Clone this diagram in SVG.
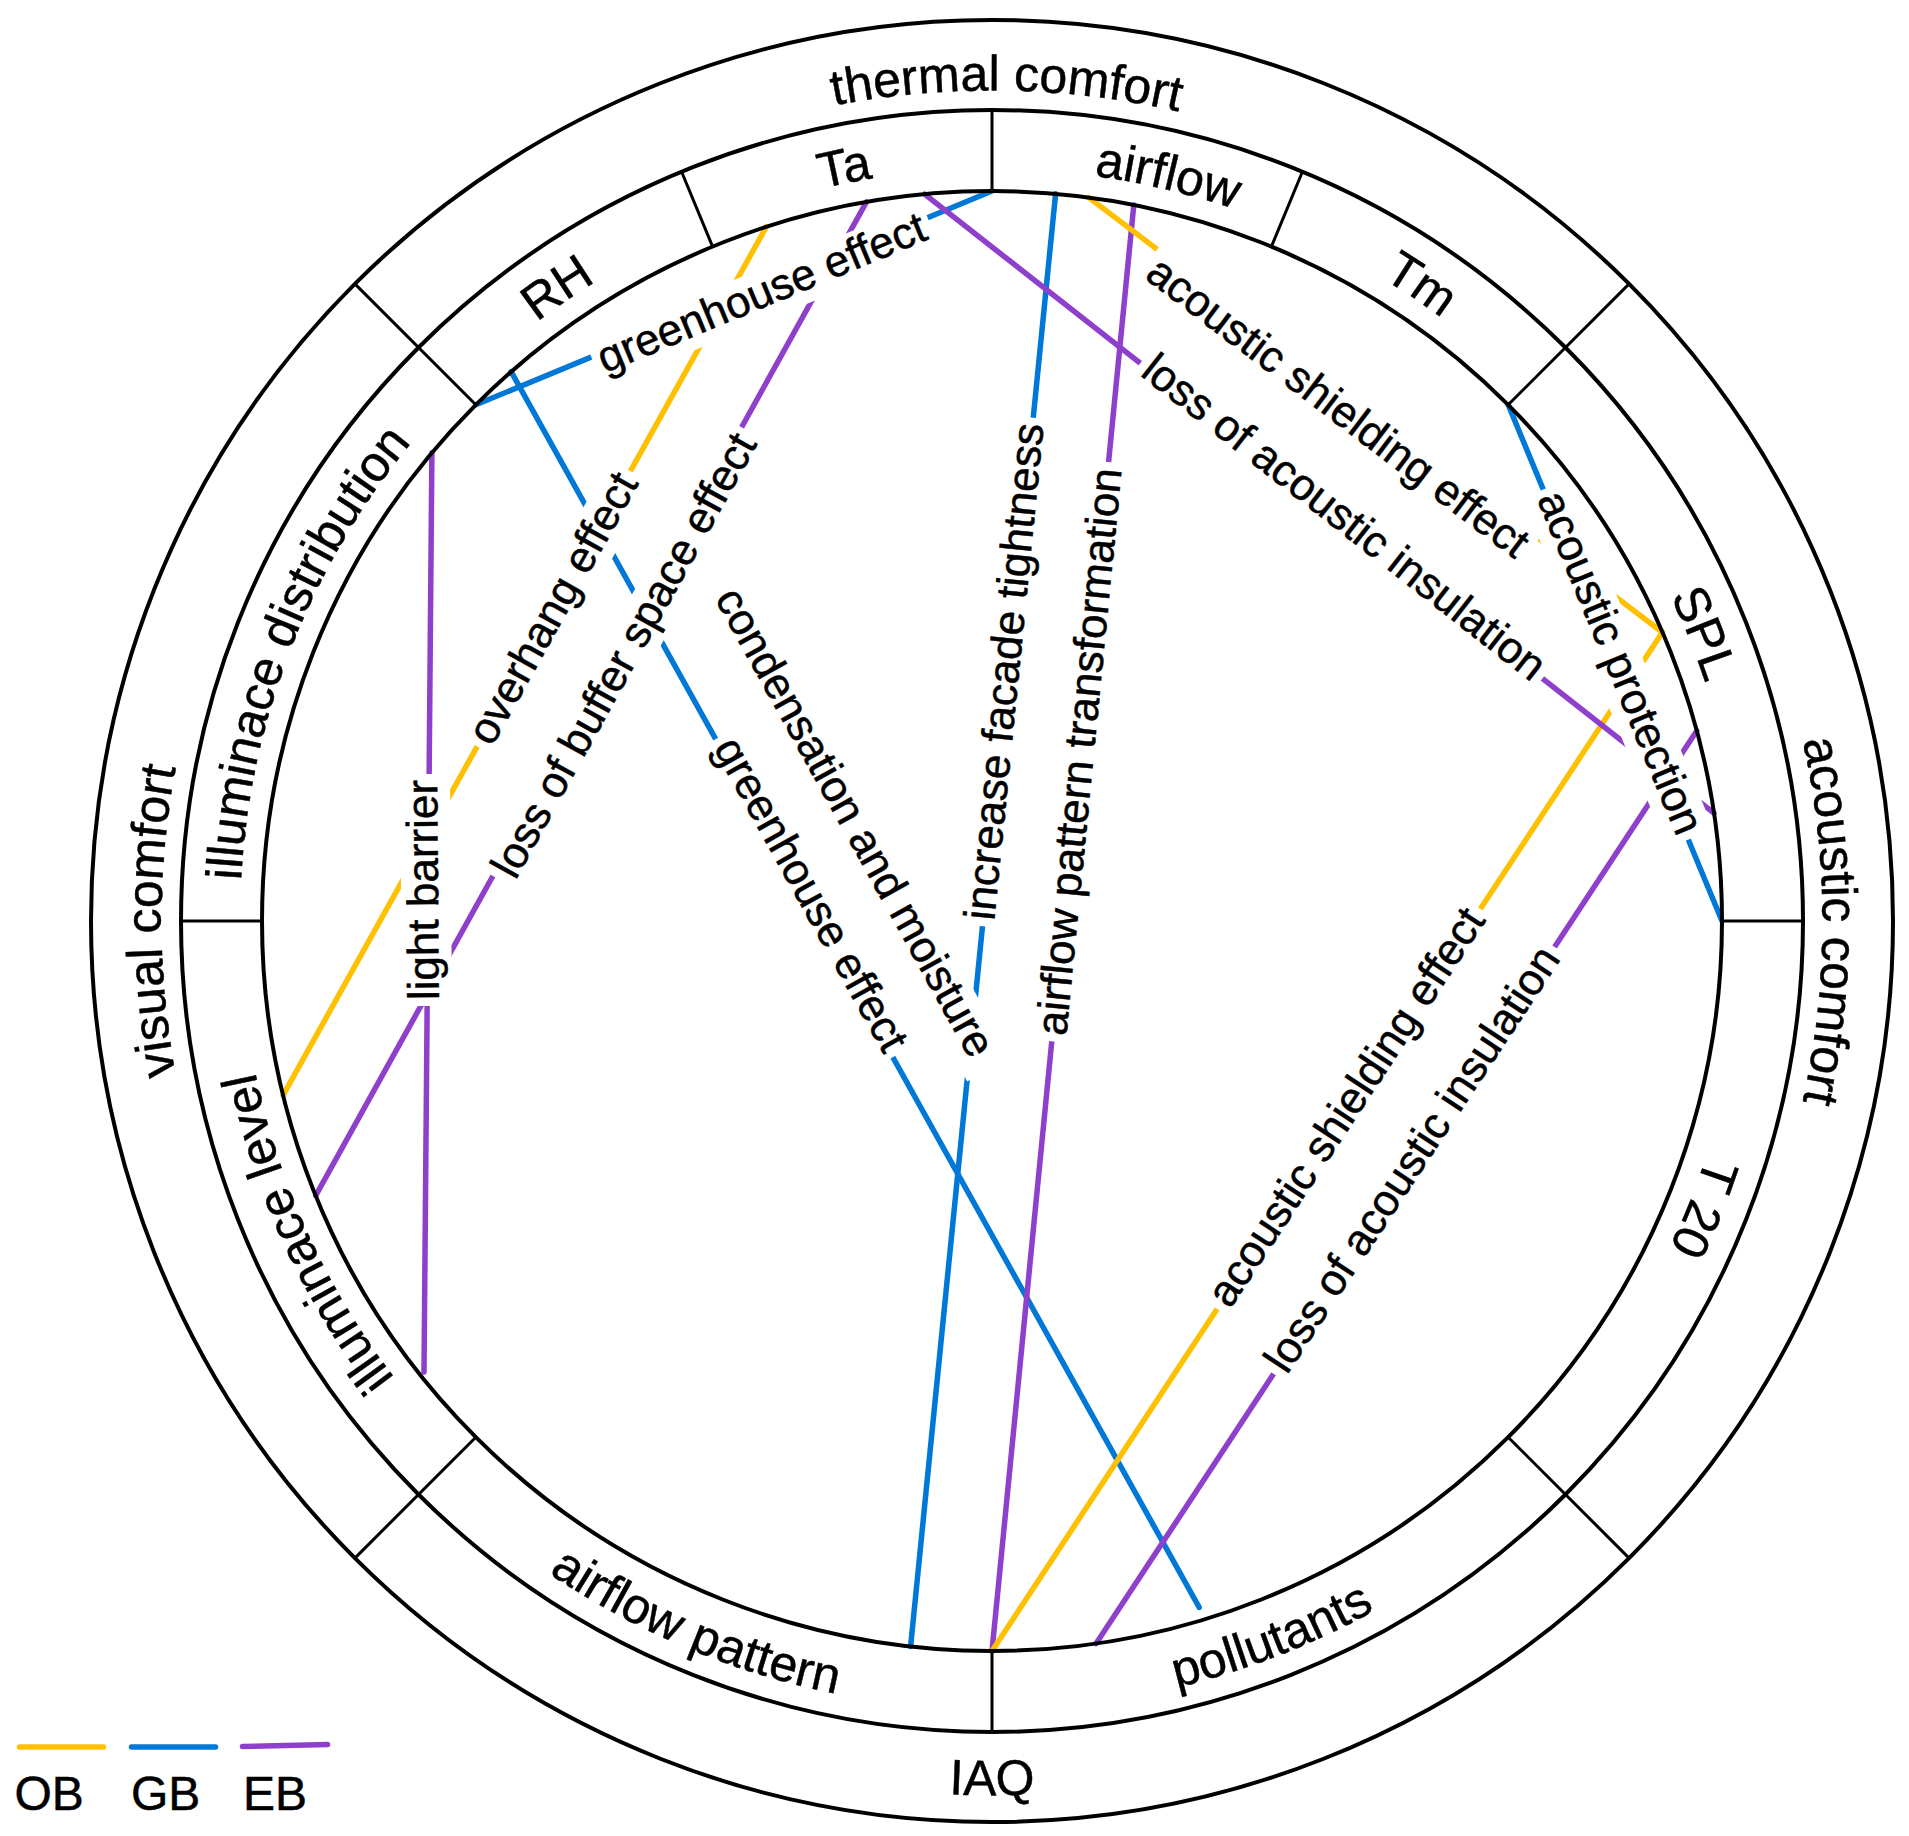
<svg xmlns="http://www.w3.org/2000/svg" width="1909" height="1836" viewBox="0 0 1909 1836">
<style>
.ring{fill:none;stroke:#000;stroke-width:4}
.dv{stroke:#000;stroke-width:3}
.chord{fill:none;stroke-width:5.5;stroke-linecap:round}
.ob{stroke:#FFC000}
.gb{stroke:#0078D7}
.eb{stroke:#8E3FCB}
.bg{fill:#fff}
.lbl{font-family:"Liberation Sans",Arial,Helvetica,sans-serif;font-size:44px;text-anchor:middle;fill:#000;stroke:#000;stroke-width:0.5}
.rt{font-family:"Liberation Sans",Arial,Helvetica,sans-serif;font-size:50px;text-anchor:middle;fill:#000;stroke:#000;stroke-width:0.5}
.lg{font-family:"Liberation Sans",Arial,Helvetica,sans-serif;font-size:48px;fill:#000;stroke:#000;stroke-width:0.5}
</style>
<defs>
<path id="p-in-n" d="M242.4 855.4 A752.5 752.5 0 0 1 1741.6 855.4"/>
<path id="p-in-f" d="M206.5 989.7 A788.5 788.5 0 0 0 1777.5 989.7"/>
<path id="p-out-n" d="M164.2 848.6 A831 831 0 0 1 1819.8 848.6"/>
<path id="p-out-f" d="M121.3 997.2 A874 874 0 0 0 1862.7 997.2"/>
</defs>
<rect width="1909" height="1836" fill="#fff"/>
<g id="connectors">
<g id="chord-lines">
<line class="chord gb" x1="992" y1="191" x2="475.8" y2="404.8"/>
<line class="chord gb" x1="511.1" y1="371.7" x2="1199.2" y2="1607.4"/>
<line class="chord ob" x1="766.4" y1="226.7" x2="283.1" y2="1095.1"/>
<line class="chord eb" x1="866.5" y1="201.9" x2="315.7" y2="1195.6"/>
<line class="chord eb" x1="431.9" y1="452.8" x2="424" y2="1372"/>
<line class="chord gb" x1="1055.6" y1="193.8" x2="910.6" y2="1646.5"/>
<line class="chord eb" x1="1133.8" y1="204.9" x2="992" y2="1651"/>
<line class="chord ob" x1="1088.6" y1="197.4" x2="1662.4" y2="632.3"/>
<line class="chord ob" x1="992" y1="1651" x2="1662.4" y2="632.3"/>
<line class="chord eb" x1="924.6" y1="194.1" x2="1714" y2="813.1"/>
<line class="chord eb" x1="1096.1" y1="1643.6" x2="1696.8" y2="730.8"/>
<line class="chord gb" x1="1508.2" y1="404.8" x2="1722" y2="921"/>
</g>
<g id="chord-labels">
<g transform="translate(763 296) rotate(-22.5)"><rect class="bg" x="-182" y="-26" width="364" height="50"/><text class="lbl" y="11">greenhouse effect</text></g>
<g transform="translate(808 896) rotate(60.9)"><rect class="bg" x="-182" y="-26" width="364" height="50"/><text class="lbl" y="11">greenhouse effect</text></g>
<g transform="translate(556 610) rotate(-60.9)"><rect class="bg" x="-157.5" y="-26" width="315" height="50"/><text class="lbl" y="11">overhang effect</text></g>
<g transform="translate(627 657) rotate(-61)"><rect class="bg" x="-256.5" y="-26" width="513" height="50"/><text class="lbl" y="11">loss of buffer space effect</text></g>
<g transform="translate(427 890) rotate(-90.5)"><rect class="bg" x="-116" y="-26" width="232" height="50"/><text class="lbl" y="11">light barrier</text></g>
<g transform="translate(1008 672) rotate(-84.3)"><rect class="bg" x="-255.5" y="-26" width="511" height="50"/><text class="lbl" y="11">increase facade tightness</text></g>
<g transform="translate(1083 752) rotate(-84.4)"><rect class="bg" x="-291" y="-26" width="582" height="50"/><text class="lbl" y="11">airflow pattern transformation</text></g>
<g transform="translate(1336 410) rotate(37.2)"><rect class="bg" x="-239.5" y="-26" width="479" height="50"/><text class="lbl" y="11">acoustic shielding effect</text></g>
<g transform="translate(1349 1109) rotate(-56.65)"><rect class="bg" x="-239.5" y="-26" width="479" height="50"/><text class="lbl" y="11">acoustic shielding effect</text></g>
<g transform="translate(1342 520) rotate(38.1)"><rect class="bg" x="-255.5" y="-26" width="511" height="50"/><text class="lbl" y="11">loss of acoustic insulation</text></g>
<g transform="translate(1415 1161) rotate(-56.65)"><rect class="bg" x="-255.5" y="-26" width="511" height="50"/><text class="lbl" y="11">loss of acoustic insulation</text></g>
<g transform="translate(1617 664) rotate(67.5)"><rect class="bg" x="-189.5" y="-26" width="379" height="50"/><text class="lbl" y="11">acoustic protection</text></g>
<g transform="translate(852 824) rotate(61)"><rect class="bg" x="-281" y="-26" width="562" height="50"/><text class="lbl" y="11">condensation and moisture</text></g>
</g>
</g>
<g id="ring">
<circle class="ring" cx="992" cy="921" r="730"/>
<circle class="ring" cx="992" cy="921" r="811"/>
<circle class="ring" cx="992" cy="921" r="901"/>
<line class="dv" x1="1508.2" y1="404.8" x2="1629.1" y2="283.9"/>
<line class="dv" x1="1508.2" y1="1437.2" x2="1629.1" y2="1558.1"/>
<line class="dv" x1="475.8" y1="1437.2" x2="354.9" y2="1558.1"/>
<line class="dv" x1="475.8" y1="404.8" x2="354.9" y2="283.9"/>
<line class="dv" x1="992" y1="191" x2="992" y2="110"/>
<line class="dv" x1="1271.4" y1="246.6" x2="1302.4" y2="171.7"/>
<line class="dv" x1="712.6" y1="246.6" x2="681.6" y2="171.7"/>
<line class="dv" x1="1722" y1="921" x2="1803" y2="921"/>
<line class="dv" x1="992" y1="1651" x2="992" y2="1732"/>
<line class="dv" x1="262" y1="921" x2="181" y2="921"/>
</g>
<g id="node-thermal-comfort"><text class="rt" transform="rotate(1 992 921)"><textPath href="#p-out-n" startOffset="50%">thermal comfort</textPath></text></g>
<g id="node-acoustic-comfort"><text class="rt" transform="rotate(90 992 921)"><textPath href="#p-out-n" startOffset="50%">acoustic comfort</textPath></text></g>
<g id="node-iaq"><text class="rt"><textPath href="#p-out-f" startOffset="50%">IAQ</textPath></text></g>
<g id="node-visual-comfort"><text class="rt" transform="rotate(270 992 921)"><textPath href="#p-out-n" startOffset="50%">visual comfort</textPath></text></g>
<g id="node-rh"><text class="rt" transform="rotate(-34.5 992 921)"><textPath href="#p-in-n" startOffset="50%">RH</textPath></text></g>
<g id="node-ta"><text class="rt" transform="rotate(-11.1 992 921)"><textPath href="#p-in-n" startOffset="50%">Ta</textPath></text></g>
<g id="node-airflow"><text class="rt" transform="rotate(13.3 992 921)"><textPath href="#p-in-n" startOffset="50%">airflow</textPath></text></g>
<g id="node-tm"><text class="rt" transform="rotate(34 992 921)"><textPath href="#p-in-n" startOffset="50%">Tm</textPath></text></g>
<g id="node-spl"><text class="rt" transform="rotate(68 992 921)"><textPath href="#p-in-n" startOffset="50%">SPL</textPath></text></g>
<g id="node-t20"><text class="rt" transform="rotate(112 992 921)"><textPath href="#p-in-n" startOffset="50%">T 20</textPath></text></g>
<g id="node-pollutants"><text class="rt" transform="rotate(-21.3 992 921)"><textPath href="#p-in-f" startOffset="50%">pollutants</textPath></text></g>
<g id="node-airflow-pattern"><text class="rt" transform="rotate(22.8 992 921)"><textPath href="#p-in-f" startOffset="50%">airflow pattern</textPath></text></g>
<g id="node-illuminace-level"><text class="rt" transform="rotate(245.5 992 921)"><textPath href="#p-in-n" startOffset="50%">illuminace level</textPath></text></g>
<g id="node-illuminace-distribution"><text class="rt" transform="rotate(291.3 992 921)"><textPath href="#p-in-n" startOffset="50%">illuminace distribution</textPath></text></g>
<g id="legend">
<line class="chord ob" x1="19.5" y1="1747" x2="103.5" y2="1747"/>
<line class="chord gb" x1="131.5" y1="1747" x2="215.5" y2="1747"/>
<line class="chord eb" x1="242.5" y1="1746.5" x2="327.5" y2="1744.5"/>
<text class="lg" x="14.5" y="1810">OB</text>
<text class="lg" x="131" y="1810">GB</text>
<text class="lg" x="243" y="1810">EB</text>
</g>
</svg>
